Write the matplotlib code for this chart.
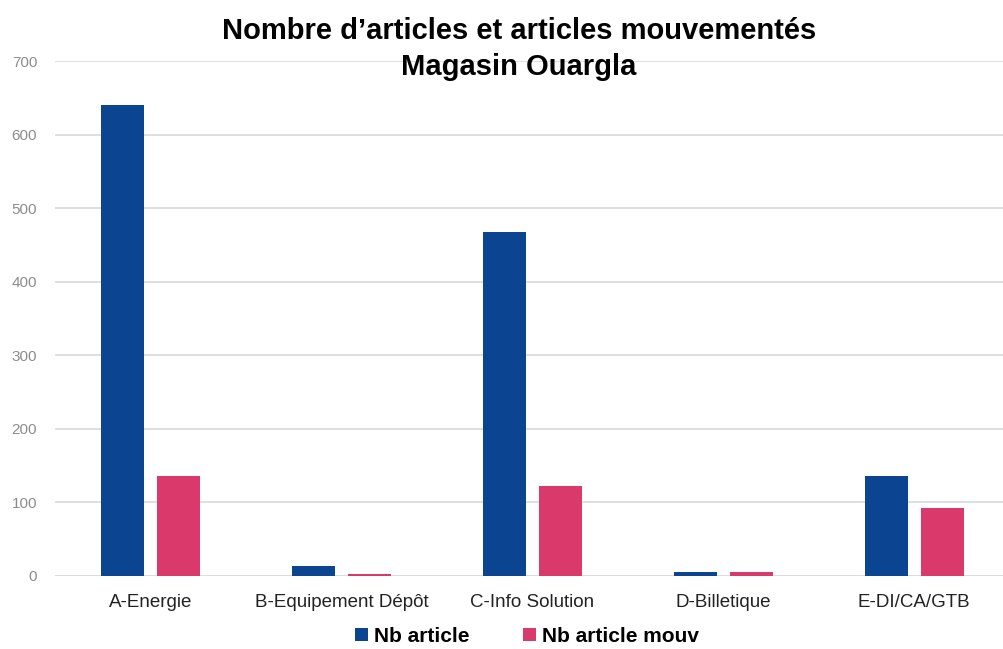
import matplotlib
matplotlib.use("Agg")
import matplotlib.pyplot as plt
import numpy as np

plt.rcParams['font.family'] = ['Liberation Sans', 'DejaVu Sans']

categories = ['A-Energie', 'B-Equipement Dépôt', 'C-Info Solution', 'D-Billetique', 'E-DI/CA/GTB']
nb_article = [640, 14, 467, 6, 136]
nb_article_mouv = [136, 3, 122, 6, 92]

blue = '#0b4592'
pink = '#da3a6b'

fig = plt.figure(figsize=(10.04, 6.49), dpi=100)
ax = fig.add_axes([0.055, 0.1125, 0.945, 0.7935])

x = np.arange(len(categories))
w = 0.225
off = 0.147
ax.bar(x - off, nb_article, w, color=blue, label='Nb article', zorder=3)
ax.bar(x + off, nb_article_mouv, w, color=pink, label='Nb article mouv', zorder=3)

ax.set_ylim(0, 700)
ax.set_xlim(-0.5, 4.47)
ax.set_yticks(range(0, 701, 100))
ax.yaxis.grid(True, color='#dcdcdc', linewidth=1.3, zorder=0)
ax.set_xticks(x)
ax.set_xticklabels(categories, fontsize=13.5, color='#222222')
ax.tick_params(axis='y', length=0, labelsize=11, labelcolor='#8c8c8c', pad=13)
ax.tick_params(axis='x', length=0, pad=13)
for s in ax.spines.values():
    s.set_visible(False)
ax.axhline(0, color='#dcdcdc', linewidth=1.3, zorder=1)

fig.text(0.517, 0.925, 'Nombre d’articles et articles mouvementés\nMagasin Ouargla',
         ha='center', va='center', fontsize=21, fontweight='bold', linespacing=1.35)

fig.legend(loc='center', bbox_to_anchor=(0.525, 0.02), ncol=2, frameon=False,
           prop={'size': 15, 'weight': 'bold'}, handlelength=0.6, handleheight=0.6,
           handletextpad=0.3, columnspacing=2.6)

fig.savefig('out.png', dpi=100)
